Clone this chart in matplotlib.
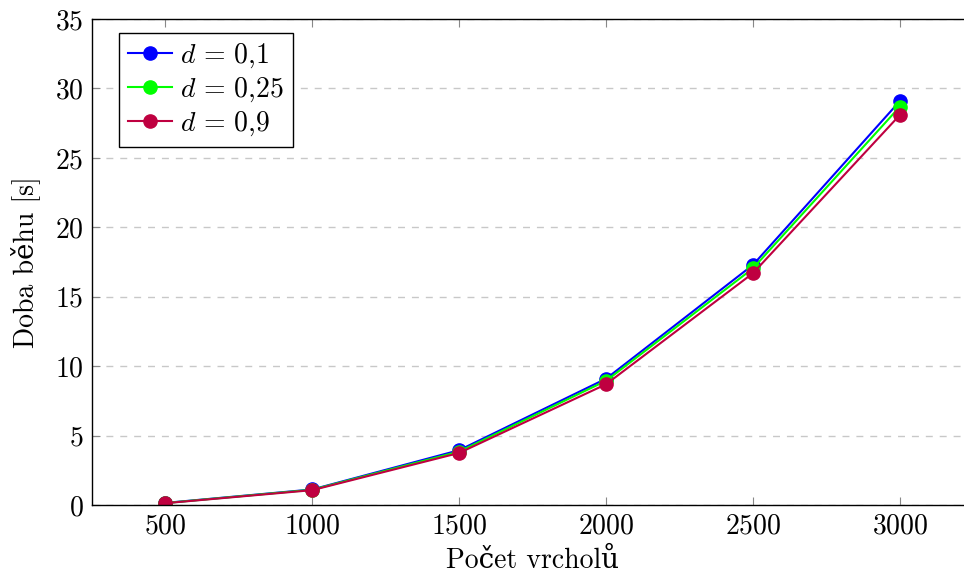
import matplotlib
matplotlib.use("Agg")
import matplotlib.pyplot as plt

# ---------- Data ----------
vertices = [500, 1000, 1500, 2000, 2500, 3000]
time_d01 = [0.15, 1.12, 3.95, 9.1, 17.3, 29.1]
time_d025 = [0.14, 1.10, 3.85, 8.95, 17.05, 28.7]
time_d09 = [0.13, 1.07, 3.75, 8.7, 16.7, 28.1]
labels = [r"$d\,=\,0{,}1$", r"$d\,=\,0{,}25$", r"$d\,=\,0{,}9$"]
colors = ["#0000ff", "#00ff00", "#bf0040"]

# ---------- Style ----------
plt.rcParams["font.family"] = ["cmr10", "DejaVu Serif"]
plt.rcParams["mathtext.fontset"] = "cm"
plt.rcParams["axes.formatter.use_mathtext"] = True
FS = 20

fig = plt.figure(figsize=(9.64, 5.77), dpi=100)
ax = fig.add_axes([0.0954, 0.1248, 0.9144, 0.8422])

for ys, lab, col in zip([time_d01, time_d025, time_d09], labels, colors):
    ax.plot(vertices, ys, color=col, lw=1.5, marker="o", ms=9.5, label=lab)

ax.set_xlim(250, 3250)
ax.set_ylim(0, 35)
ax.set_xticks(vertices)
ax.set_yticks(range(0, 36, 5))
ax.yaxis.grid(True, color="#c8c8c8", linestyle=(0, (5, 5)), lw=1)
ax.set_axisbelow(True)
ax.tick_params(direction="in", length=6, width=0.8, color="#888888",
               top=True, right=True, labelsize=FS, pad=6)
for s in ax.spines.values():
    s.set_linewidth(1.0)

ax.set_xlabel("Počet vrcholů", fontsize=FS, labelpad=6)
ax.set_ylabel("Doba běhu [s]", fontsize=FS, labelpad=11)

leg = ax.legend(loc="upper left", bbox_to_anchor=(0.031, 0.971), fontsize=FS,
                borderaxespad=0, fancybox=False, edgecolor="black",
                framealpha=1, handlelength=1.6, borderpad=0.3,
                labelspacing=0.2, handletextpad=0.3)
leg.get_frame().set_linewidth(1.0)

fig.savefig("out.png", dpi=100)
